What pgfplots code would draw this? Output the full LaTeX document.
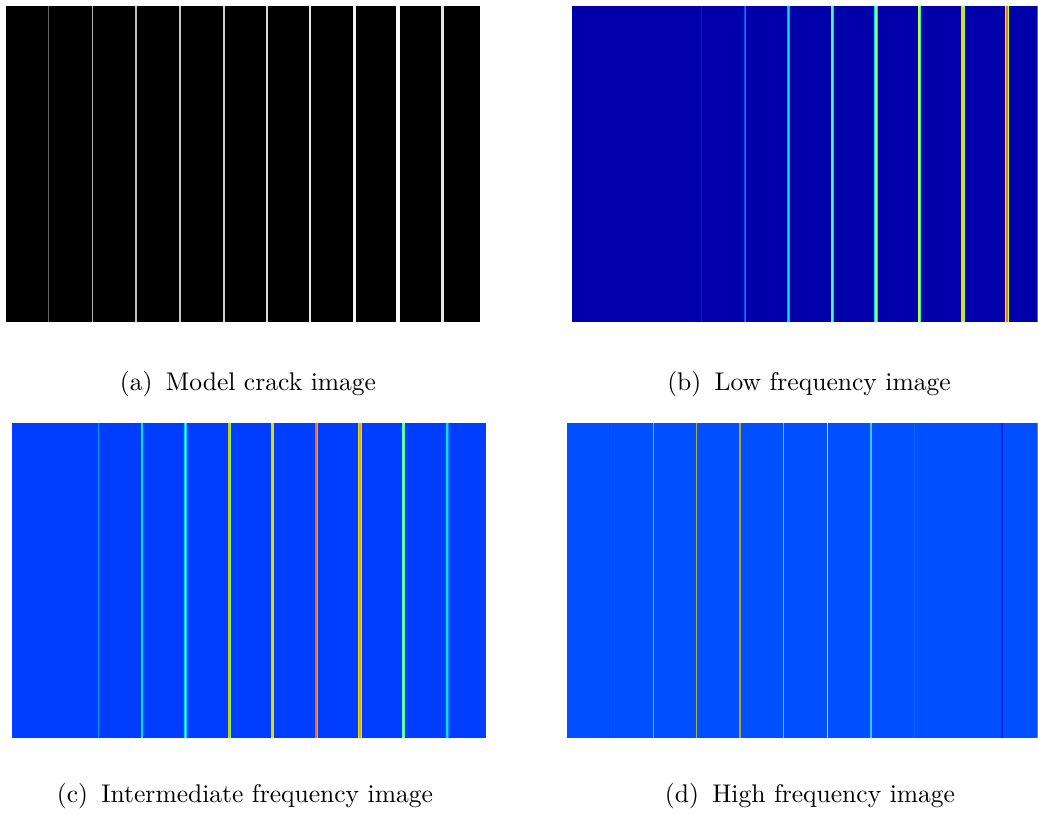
\documentclass[border=0pt]{standalone}
\usepackage{pgfplots}
\pgfplotsset{compat=1.18}
\pgfplotsset{panel/.style={hide axis, scale only axis, xmin=0, ymin=0,
  enlargelimits=false, clip=true, anchor=south west}}
% one crack line: x, colour spec, line width, height
\newcommand{\crk}[4]{\addplot[draw={rgb,255:#2}, line width=#3, forget plot] coordinates {(#1,0) (#1,#4)};}
\begin{document}
\begin{tikzpicture}
\path[use as bounding box] (0,0) rectangle (444.86pt,-348.86pt);

% (a) Model crack image
\begin{axis}[panel, at={(2.57pt,-138.0pt)}, width=203.14pt, height=135.43pt, xmax=474, ymax=316]
\addplot[fill=black, draw=none] coordinates {(0,0) (474,0) (474,316) (0,316)};
\crk{42.7}{red,100;green,100;blue,100}{0.50pt}{316}
\crk{86.3}{red,180;green,180;blue,180}{0.55pt}{316}
\crk{130}{red,190;green,190;blue,190}{0.65pt}{316}
\crk{174}{red,200;green,200;blue,200}{0.70pt}{316}
\crk{217.7}{red,210;green,210;blue,210}{0.75pt}{316}
\crk{261.3}{red,220;green,220;blue,220}{0.85pt}{316}
\crk{304.3}{red,230;green,230;blue,230}{0.95pt}{316}
\crk{348.3}{red,245;green,245;blue,245}{1.05pt}{316}
\crk{392}{red,250;green,250;blue,250}{1.30pt}{316}
\crk{436.7}{red,230;green,230;blue,230}{1.20pt}{316}
\end{axis}

% (b) Low frequency image
\begin{axis}[panel, at={(245.14pt,-138.0pt)}, width=199.59pt, height=135.43pt, xmax=465.7, ymax=316]
\addplot[fill={rgb,255:red,0;green,0;blue,170}, draw=none] coordinates {(0,0) (465.7,0) (465.7,316) (0,316)};
\crk{129.7}{red,0;green,30;blue,225}{0.55pt}{316}
\crk{173.3}{red,0;green,80;blue,250}{1.00pt}{316}
\crk{173.3}{red,0;green,130;blue,255}{0.55pt}{316}
\crk{216.7}{red,0;green,160;blue,255}{1.20pt}{316}
\crk{216.7}{red,0;green,225;blue,255}{0.65pt}{316}
\crk{260.3}{red,0;green,200;blue,255}{1.40pt}{316}
\crk{260.3}{red,70;green,255;blue,190}{0.75pt}{316}
\crk{304}{red,0;green,215;blue,255}{1.50pt}{316}
\crk{304}{red,150;green,255;blue,110}{0.80pt}{316}
\crk{347.3}{red,40;green,240;blue,210}{1.55pt}{316}
\crk{347.3}{red,205;green,255;blue,50}{0.85pt}{316}
\crk{391}{red,110;green,255;blue,150}{1.60pt}{316}
\crk{391}{red,255;green,205;blue,0}{0.85pt}{316}
\crk{434.7}{red,190;green,255;blue,70}{1.70pt}{316}
\crk{434.7}{red,255;green,120;blue,0}{0.90pt}{316}
\end{axis}

% (c) Intermediate frequency image
\begin{axis}[panel, at={(5.14pt,-316.41pt)}, width=203.14pt, height=135.13pt, xmax=474, ymax=315.3]
\addplot[fill={rgb,255:red,0;green,62;blue,255}, draw=none] coordinates {(0,0) (474,0) (474,315.3) (0,315.3)};
\crk{86.3}{red,0;green,150;blue,240}{0.60pt}{315.3}
\crk{130}{red,0;green,170;blue,255}{1.05pt}{315.3}
\crk{130}{red,0;green,230;blue,255}{0.55pt}{315.3}
\crk{173.7}{red,0;green,210;blue,255}{1.10pt}{315.3}
\crk{173.7}{red,150;green,255;blue,100}{0.60pt}{315.3}
\crk{217.3}{red,120;green,255;blue,130}{1.35pt}{315.3}
\crk{217.3}{red,240;green,190;blue,0}{0.70pt}{315.3}
\crk{260.7}{red,130;green,255;blue,120}{1.35pt}{315.3}
\crk{260.7}{red,230;green,220;blue,0}{0.70pt}{315.3}
\crk{304.3}{red,245;green,170;blue,0}{1.45pt}{315.3}
\crk{304.3}{red,255;green,105;blue,0}{0.85pt}{315.3}
\crk{348}{red,200;green,230;blue,30}{1.35pt}{315.3}
\crk{348}{red,255;green,160;blue,0}{0.70pt}{315.3}
\crk{391.7}{red,90;green,255;blue,160}{1.25pt}{315.3}
\crk{391.7}{red,170;green,255;blue,80}{0.70pt}{315.3}
\crk{435.3}{red,0;green,140;blue,255}{1.35pt}{315.3}
\crk{435.3}{red,0;green,225;blue,255}{0.75pt}{315.3}
\end{axis}

% (d) High frequency image
\begin{axis}[panel, at={(243.0pt,-316.41pt)}, width=201.73pt, height=135.13pt, xmax=470.7, ymax=315.3]
\addplot[fill={rgb,255:red,0;green,80;blue,255}, draw=none] coordinates {(0,0) (470.7,0) (470.7,315.3) (0,315.3)};
\crk{42.3}{red,0;green,72;blue,248}{0.50pt}{315.3}
\crk{86.3}{red,70;green,190;blue,255}{0.60pt}{315.3}
\crk{129.7}{red,175;green,175;blue,60}{0.65pt}{315.3}
\crk{173.3}{red,180;green,165;blue,40}{0.75pt}{315.3}
\crk{216.7}{red,175;green,180;blue,80}{0.65pt}{315.3}
\crk{260.3}{red,215;green,225;blue,140}{0.60pt}{315.3}
\crk{304}{red,60;green,200;blue,255}{0.75pt}{315.3}
\crk{347.3}{red,0;green,105;blue,255}{0.55pt}{315.3}
\crk{435}{red,0;green,40;blue,225}{0.75pt}{315.3}
\end{axis}

\begin{scope}[every node/.style={anchor=base, inner sep=0pt, font=\fontsize{10.95}{13.6}\selectfont}]
\node at (106.29pt,-167.44pt) {(a)\hspace{5.7pt}Model crack image};
\node at (346.71pt,-167.44pt) {(b)\hspace{5.7pt}Low frequency image};
\node at (105.0pt,-344.0pt) {(c)\hspace{5.7pt}Intermediate frequency image};
\node at (347.14pt,-344.0pt) {(d)\hspace{5.7pt}High frequency image};
\end{scope}
\end{tikzpicture}
\end{document}
